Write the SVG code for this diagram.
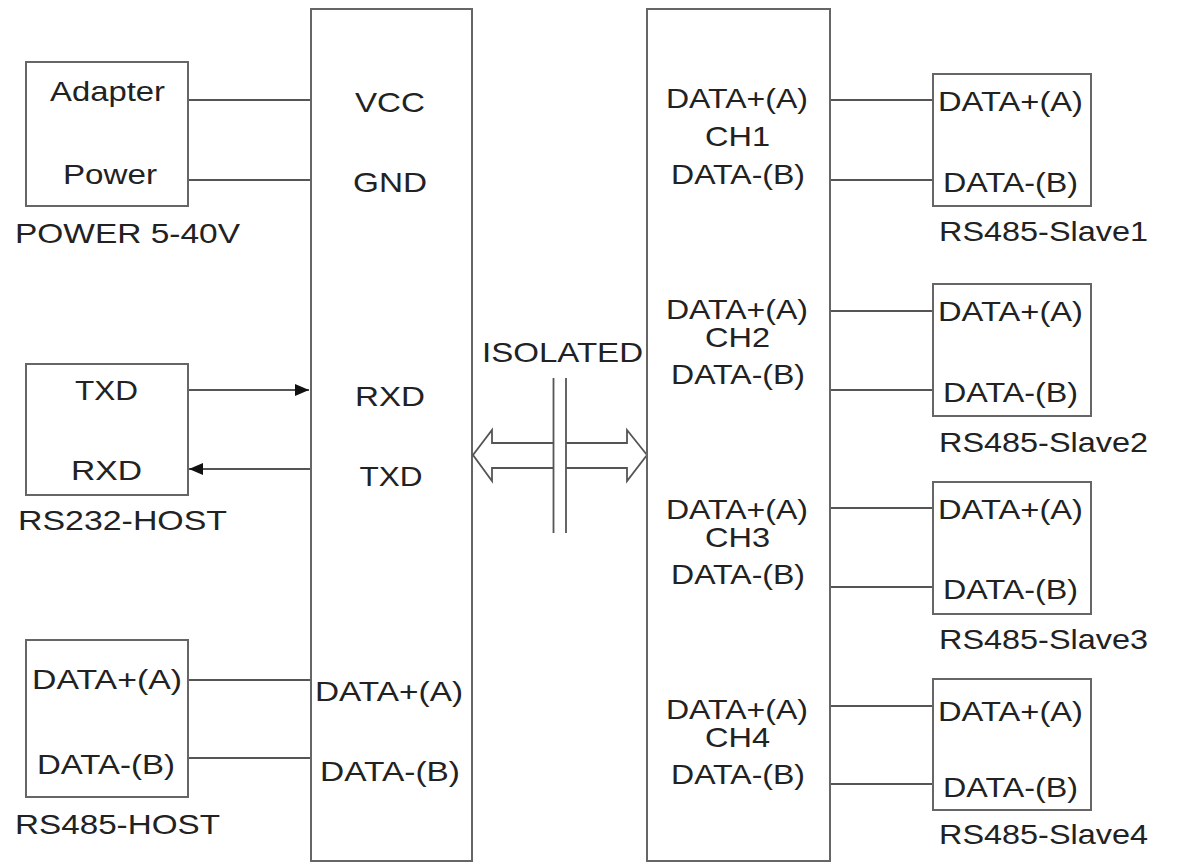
<svg xmlns="http://www.w3.org/2000/svg" width="1182" height="863" viewBox="0 0 1182 863">
<style>
.box{fill:#fff;stroke:#666;stroke-width:2}
.ln{fill:none;stroke:#555;stroke-width:1.8}
.t{font-family:"Liberation Sans",Arial,sans-serif;font-size:27.5px;fill:#222;text-anchor:middle}
</style>
<defs>
<marker id="ah" markerWidth="14" markerHeight="12" refX="14" refY="6" orient="auto" markerUnits="userSpaceOnUse">
<path d="M0,0 L14,6 L0,12 Z" fill="#111"/>
</marker>
</defs>
<rect width="1182" height="863" fill="#fff"/>

<g id="connectors">
<line class="ln" x1="188" y1="100" x2="311" y2="100"/>
<line class="ln" x1="188" y1="180" x2="311" y2="180"/>
<line class="ln" x1="188" y1="390" x2="309" y2="390" marker-end="url(#ah)"/>
<line class="ln" x1="311" y1="469" x2="189" y2="469" marker-end="url(#ah)"/>
<line class="ln" x1="188" y1="680" x2="311" y2="680"/>
<line class="ln" x1="188" y1="758" x2="311" y2="758"/>
<line class="ln" x1="830" y1="100" x2="933" y2="100"/>
<line class="ln" x1="830" y1="180" x2="933" y2="180"/>
<line class="ln" x1="830" y1="311" x2="933" y2="311"/>
<line class="ln" x1="830" y1="390" x2="933" y2="390"/>
<line class="ln" x1="830" y1="508" x2="933" y2="508"/>
<line class="ln" x1="830" y1="587" x2="933" y2="587"/>
<line class="ln" x1="830" y1="706" x2="933" y2="706"/>
<line class="ln" x1="830" y1="784" x2="933" y2="784"/>
</g>

<g id="power">
<rect class="box" x="26" y="62" width="162" height="144"/>
<text class="t" x="107.5" y="101" textLength="115" lengthAdjust="spacingAndGlyphs">Adapter</text>
<text class="t" x="110" y="184" textLength="94" lengthAdjust="spacingAndGlyphs">Power</text>
<text class="t" x="127.5" y="243" textLength="225" lengthAdjust="spacingAndGlyphs">POWER 5-40V</text>
</g>

<g id="rs232host">
<rect class="box" x="26" y="364" width="162" height="131"/>
<text class="t" x="106.5" y="400" textLength="63" lengthAdjust="spacingAndGlyphs">TXD</text>
<text class="t" x="106.5" y="480" textLength="71" lengthAdjust="spacingAndGlyphs">RXD</text>
<text class="t" x="122.5" y="530" textLength="209" lengthAdjust="spacingAndGlyphs">RS232-HOST</text>
</g>

<g id="rs485host">
<rect class="box" x="26" y="640" width="162" height="157"/>
<text class="t" x="107" y="689" textLength="150" lengthAdjust="spacingAndGlyphs">DATA+(A)</text>
<text class="t" x="106" y="774" textLength="138" lengthAdjust="spacingAndGlyphs">DATA-(B)</text>
<text class="t" x="117.5" y="834" textLength="205" lengthAdjust="spacingAndGlyphs">RS485-HOST</text>
</g>

<g id="left-main">
<rect class="box" x="311" y="9" width="161" height="852"/>
<text class="t" x="390" y="112" textLength="70" lengthAdjust="spacingAndGlyphs">VCC</text>
<text class="t" x="390" y="192" textLength="74" lengthAdjust="spacingAndGlyphs">GND</text>
<text class="t" x="390" y="406" textLength="70" lengthAdjust="spacingAndGlyphs">RXD</text>
<text class="t" x="391" y="486" textLength="63" lengthAdjust="spacingAndGlyphs">TXD</text>
<text class="t" x="389" y="701" textLength="148" lengthAdjust="spacingAndGlyphs">DATA+(A)</text>
<text class="t" x="390" y="781" textLength="140" lengthAdjust="spacingAndGlyphs">DATA-(B)</text>
</g>

<g id="isolation">
<text class="t" x="562.5" y="362" textLength="161" lengthAdjust="spacingAndGlyphs">ISOLATED</text>
<line class="ln" x1="553.5" y1="378" x2="553.5" y2="533"/>
<line class="ln" x1="566" y1="378" x2="566" y2="533"/>
<path class="ln" d="M553,443 H492 V430 L473,455 L492,481 V468 H553"/>
<path class="ln" d="M566,443 H627 V430 L647,455 L627,481 V468 H566"/>
</g>

<g id="right-main">
<rect class="box" x="647" y="9" width="183" height="852"/>
<text class="t" x="737" y="108" textLength="142" lengthAdjust="spacingAndGlyphs">DATA+(A)</text>
<text class="t" x="737.5" y="146" textLength="65" lengthAdjust="spacingAndGlyphs">CH1</text>
<text class="t" x="738" y="184" textLength="134" lengthAdjust="spacingAndGlyphs">DATA-(B)</text>
<text class="t" x="737" y="319" textLength="142" lengthAdjust="spacingAndGlyphs">DATA+(A)</text>
<text class="t" x="737.5" y="347" textLength="65" lengthAdjust="spacingAndGlyphs">CH2</text>
<text class="t" x="738" y="384" textLength="134" lengthAdjust="spacingAndGlyphs">DATA-(B)</text>
<text class="t" x="737" y="519" textLength="142" lengthAdjust="spacingAndGlyphs">DATA+(A)</text>
<text class="t" x="737.5" y="547" textLength="65" lengthAdjust="spacingAndGlyphs">CH3</text>
<text class="t" x="738" y="584" textLength="134" lengthAdjust="spacingAndGlyphs">DATA-(B)</text>
<text class="t" x="737" y="719" textLength="142" lengthAdjust="spacingAndGlyphs">DATA+(A)</text>
<text class="t" x="737.5" y="747" textLength="65" lengthAdjust="spacingAndGlyphs">CH4</text>
<text class="t" x="738" y="784" textLength="134" lengthAdjust="spacingAndGlyphs">DATA-(B)</text>
</g>

<g id="slave1">
<rect class="box" x="933" y="74" width="158" height="132"/>
<text class="t" x="1010.5" y="111" textLength="145" lengthAdjust="spacingAndGlyphs">DATA+(A)</text>
<text class="t" x="1010.5" y="192" textLength="135" lengthAdjust="spacingAndGlyphs">DATA-(B)</text>
<text class="t" x="1043.5" y="241" textLength="209" lengthAdjust="spacingAndGlyphs">RS485-Slave1</text>
</g>

<g id="slave2">
<rect class="box" x="933" y="284" width="158" height="132"/>
<text class="t" x="1010.5" y="321" textLength="145" lengthAdjust="spacingAndGlyphs">DATA+(A)</text>
<text class="t" x="1010.5" y="402" textLength="135" lengthAdjust="spacingAndGlyphs">DATA-(B)</text>
<text class="t" x="1043.5" y="452" textLength="209" lengthAdjust="spacingAndGlyphs">RS485-Slave2</text>
</g>

<g id="slave3">
<rect class="box" x="933" y="482" width="158" height="132"/>
<text class="t" x="1010.5" y="519" textLength="145" lengthAdjust="spacingAndGlyphs">DATA+(A)</text>
<text class="t" x="1010.5" y="599" textLength="135" lengthAdjust="spacingAndGlyphs">DATA-(B)</text>
<text class="t" x="1043.5" y="649" textLength="209" lengthAdjust="spacingAndGlyphs">RS485-Slave3</text>
</g>

<g id="slave4">
<rect class="box" x="933" y="679" width="158" height="131"/>
<text class="t" x="1010.5" y="721" textLength="145" lengthAdjust="spacingAndGlyphs">DATA+(A)</text>
<text class="t" x="1010.5" y="797" textLength="135" lengthAdjust="spacingAndGlyphs">DATA-(B)</text>
<text class="t" x="1043.5" y="844" textLength="209" lengthAdjust="spacingAndGlyphs">RS485-Slave4</text>
</g>
</svg>
